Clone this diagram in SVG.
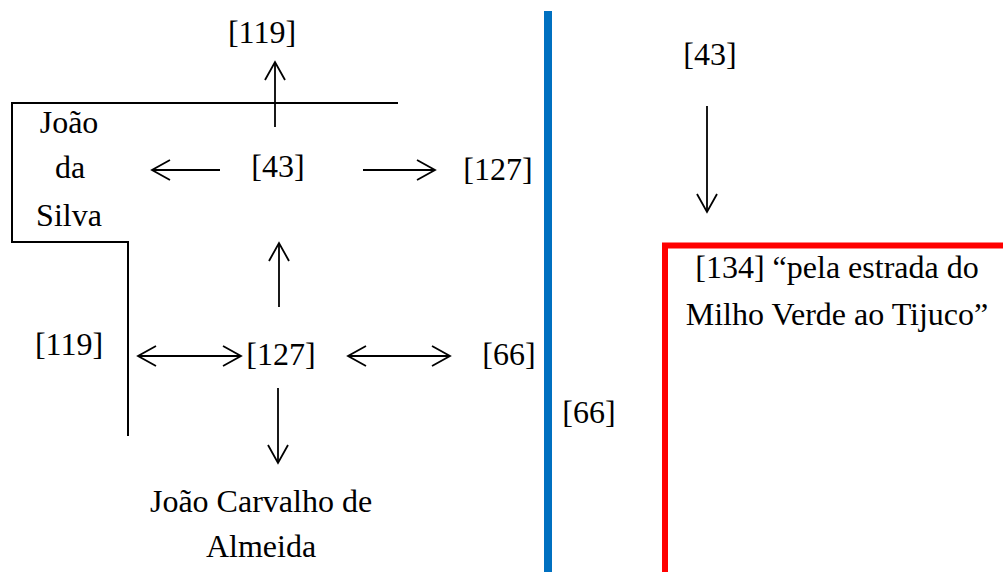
<svg xmlns="http://www.w3.org/2000/svg" width="1003" height="572" viewBox="0 0 1003 572">
<style>
text{font-family:'Liberation Serif','DejaVu Serif',serif;font-size:32px;fill:#000;text-anchor:middle}
.ln{stroke:#000;stroke-width:2;fill:none}
.ar{stroke:#000;stroke-width:1.8;fill:none}
</style>
<defs>
<marker id="ah" markerUnits="userSpaceOnUse" markerWidth="24" markerHeight="24" refX="20" refY="11" orient="auto-start-reverse" viewBox="0 0 24 24">
<path d="M2,1 L20,11 L2,21" fill="none" stroke="#000" stroke-width="1.8"/>
</marker>
</defs>
<rect width="1003" height="572" fill="#fff"/>
<g id="frames">
<polyline class="ln" points="398,103 12,103 12,242 128,242 128,436"/>
<line x1="548" y1="11" x2="548" y2="572" stroke="#0070C0" stroke-width="8"/>
<polyline points="665,572 665,245.5 1003,245.5" fill="none" stroke="#FF0000" stroke-width="6"/>
</g>
<g id="connectors">
<line class="ar" x1="275" y1="127" x2="275" y2="62" marker-end="url(#ah)"/>
<line class="ar" x1="220" y1="170" x2="152" y2="170" marker-end="url(#ah)"/>
<line class="ar" x1="363" y1="170" x2="435" y2="170" marker-end="url(#ah)"/>
<line class="ar" x1="279" y1="307" x2="279" y2="243" marker-end="url(#ah)"/>
<line class="ar" x1="138" y1="356" x2="241" y2="356" marker-start="url(#ah)" marker-end="url(#ah)"/>
<line class="ar" x1="348" y1="356" x2="450" y2="356" marker-start="url(#ah)" marker-end="url(#ah)"/>
<line class="ar" x1="278" y1="388" x2="278" y2="463" marker-end="url(#ah)"/>
<line class="ar" x1="707" y1="106" x2="707" y2="212" marker-end="url(#ah)"/>
</g>
<g id="n-119-top"><text x="262" y="43">[119]</text></g>
<g id="n-43"><text x="278" y="177">[43]</text></g>
<g id="n-joao-da-silva">
<text x="69" y="133">João</text>
<text x="70" y="178">da</text>
<text x="69" y="226">Silva</text>
</g>
<g id="n-127-right"><text x="498" y="180">[127]</text></g>
<g id="n-119-left"><text x="69" y="355">[119]</text></g>
<g id="n-127"><text x="281" y="365">[127]</text></g>
<g id="n-66"><text x="509" y="365">[66]</text></g>
<g id="n-joao-carvalho">
<text x="261" y="512">João Carvalho de</text>
<text x="261" y="557">Almeida</text>
</g>
<g id="n-66-right"><text x="589" y="423">[66]</text></g>
<g id="n-43-right"><text x="710" y="65">[43]</text></g>
<g id="n-134">
<text x="837" y="278">[134] “pela estrada do</text>
<text x="837" y="325">Milho Verde ao Tijuco”</text>
</g>
</svg>
